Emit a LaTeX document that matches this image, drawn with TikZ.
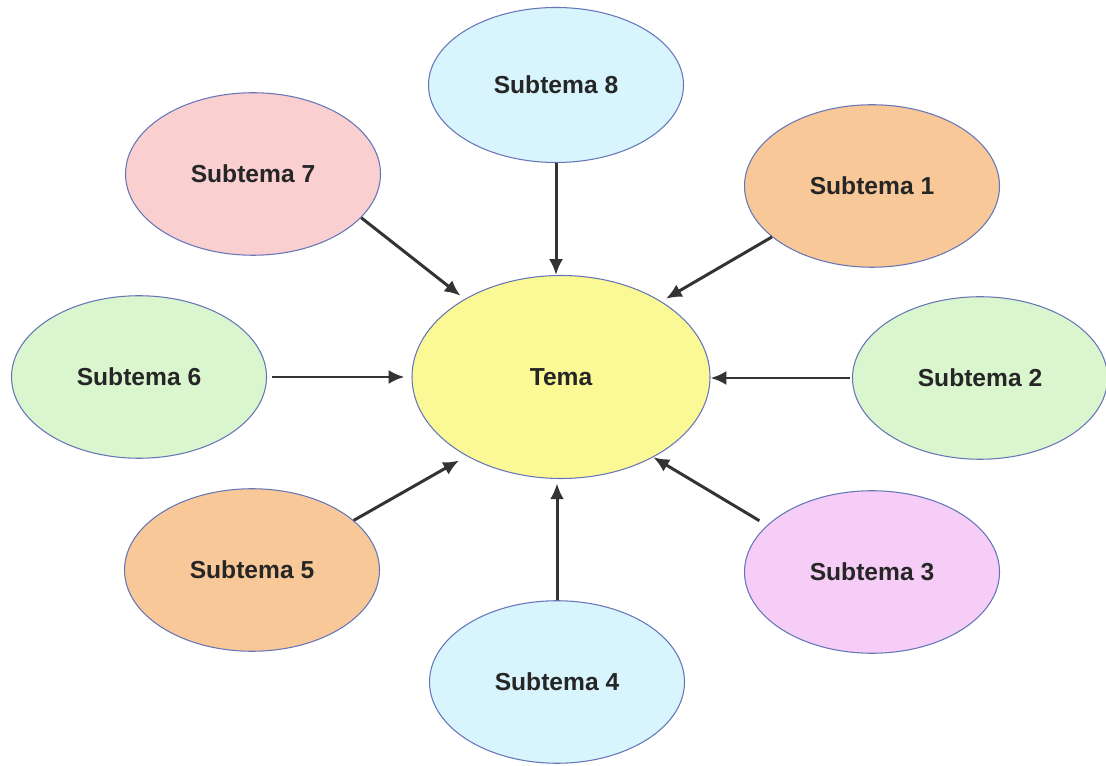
\documentclass[tikz,border=0pt]{standalone}
\usepackage{fontspec}
\setmainfont{Liberation Sans}
\usepackage{xcolor}
\usepackage{tikz}
\usetikzlibrary{shapes}
\usetikzlibrary{shapes.geometric}
\usetikzlibrary{arrows.meta}
\definecolor{bordo}{RGB}{102,117,184}
\definecolor{amarelo}{RGB}{250,249,150}
\definecolor{rosa}{RGB}{249,207,207}
\definecolor{lilas}{RGB}{246,205,246}
\definecolor{verde}{RGB}{218,246,206}
\definecolor{ciano}{RGB}{216,244,252}
\definecolor{laranja}{RGB}{248,200,152}
\tikzset{
    temanode/.style = {ellipse, draw=bordo, line width=0.6pt, align=center, fill=amarelo, minimum width=5.96cm, minimum height=4.06cm, inner sep=0pt},
    subnode/.style = {ellipse, draw=bordo, line width=0.6pt, align=center, minimum width=5.1cm, minimum height=3.25cm, inner sep=0pt},
}

\begin{document}
\begin{tikzpicture}[
	font=\fontsize{14}{16}\selectfont\bfseries,
	text=black!85
]
\tikzset{
    seta/.style = {-{Latex[length=9pt,width=8pt]}, line width=1.7pt, black!80}
}
\useasboundingbox (0,0) rectangle (22.12,15.3);
\node[temanode] at (11.22,7.76) (tema) {Tema};
\node[subnode,fill=laranja] at (17.44,11.58) (s1) {Subtema 1};
\node[subnode,fill=verde] at (19.6,7.74) (s2) {Subtema 2};
\node[subnode,fill=lilas] at (17.44,3.86) (s3) {Subtema 3};
\node[subnode,fill=ciano] at (11.14,1.66) (s4) {Subtema 4};
\node[subnode,fill=laranja] at (5.04,3.9) (s5) {Subtema 5};
\node[subnode,fill=verde] at (2.78,7.76) (s6) {Subtema 6};
\node[subnode,fill=rosa] at (5.06,11.82) (s7) {Subtema 7};
\node[subnode,fill=ciano,minimum height=3.1cm] at (11.12,13.6) (s8) {Subtema 8};
%
\draw[seta,shorten >=3pt] (s1.207.3) -- (tema.37.6);
\draw[seta,shorten <=1pt] (s2.west) -- (s2.west -| tema.east);
\draw[seta,shorten <=5pt] (s3.156.7) -- (tema.-41.4);
\draw[seta,shorten >=2.5pt] (s4.north) -- (s4.north |- tema.south);
\draw[seta,shorten >=5pt] (s5.26.3) -- (tema.220.1);
\draw[seta,shorten <=3pt,shorten >=4pt] (s6.east) -- (tema.west);
\draw[seta,shorten >=3pt] (s7.-22.3) -- (tema.141.6);
\draw[seta] (s8.south) -- (s8.south |- tema.north);
\end{tikzpicture}
\end{document}
